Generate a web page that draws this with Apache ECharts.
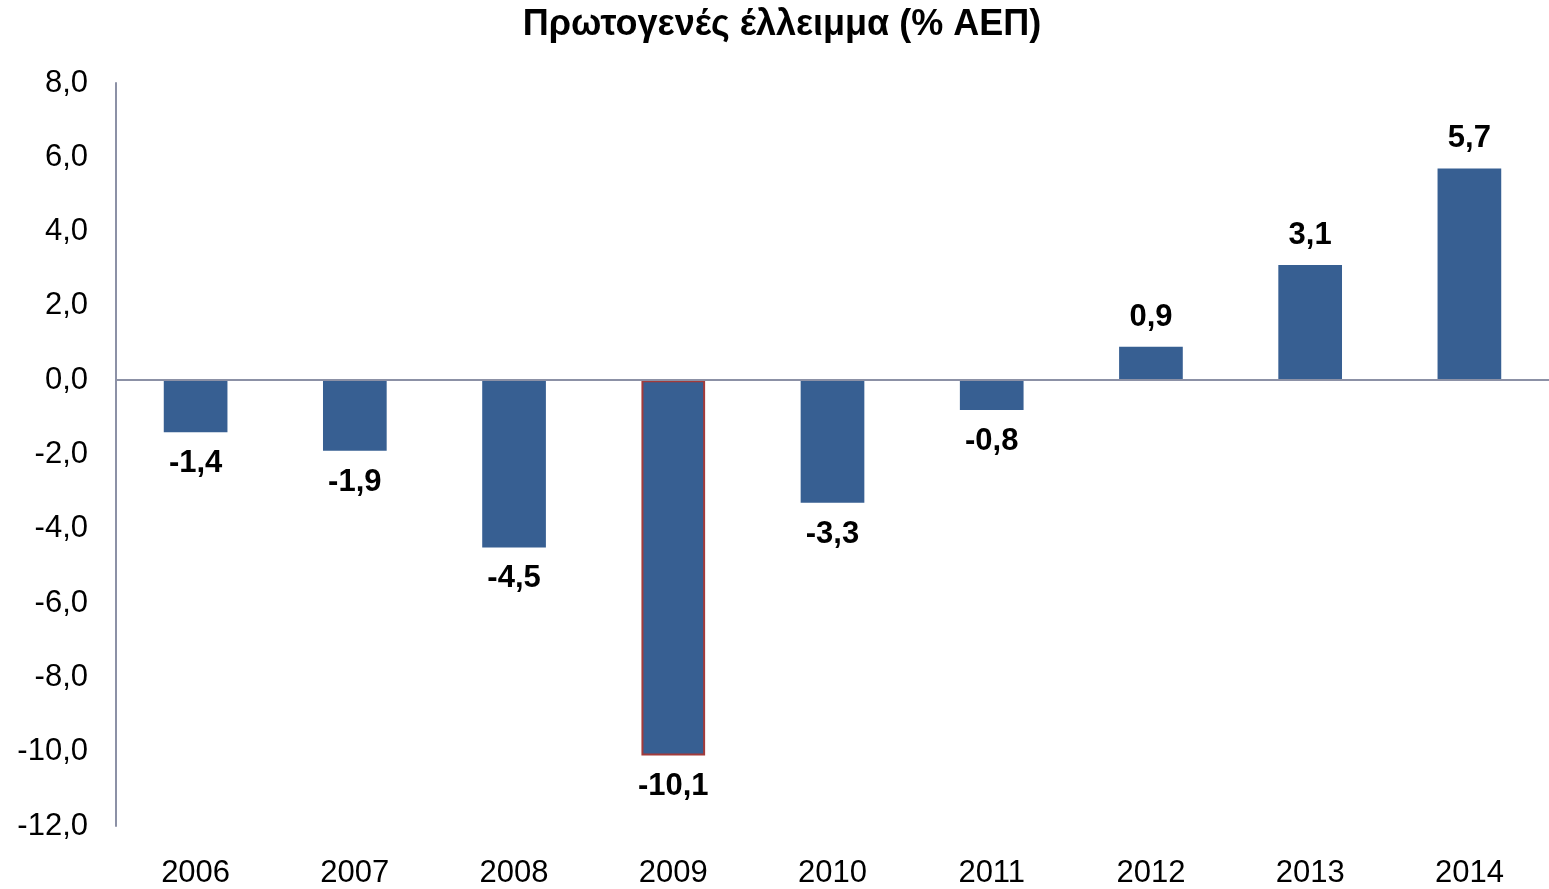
<!DOCTYPE html>
<html>
<head>
<meta charset="utf-8">
<script src="https://cdn.jsdelivr.net/npm/echarts@6/dist/echarts.min.js"></script>
<style>
html,body{margin:0;padding:0;background:#fff;}
#c{width:1549px;height:889px;}
</style>
</head>
<body>
<div id="c"></div>
<script>
const title = 'Πρωτογενές έλλειμμα (% ΑΕΠ)';
const years = ['2006','2007','2008','2009','2010','2011','2012','2013','2014'];
const values = [-1.4, -1.9, -4.5, -10.1, -3.3, -0.8, 0.9, 3.1, 5.7];
const highlightYear = '2009';

const fmt = v => v.toFixed(1).replace('.', ',');
const FONT = '"Liberation Sans", Arial, sans-serif';

const chart = echarts.init(document.getElementById('c'));
chart.setOption({
  animation: false,
  backgroundColor: '#fff',
  title: {
    text: title,
    left: 782,
    textAlign: 'center',
    top: 7,
    padding: 0,
    textStyle: {fontFamily: FONT, fontWeight: 'bold', fontSize: 36, color: '#000'}
  },
  grid: {left: 116, right: 0, top: 83, bottom: 61, containLabel: false},
  xAxis: {
    type: 'category',
    data: years,
    axisLine: {show: false, onZero: false},
    axisTick: {show: false},
    axisLabel: {margin: 32, fontFamily: FONT, fontSize: 31, color: '#000'}
  },
  yAxis: {
    type: 'value',
    min: -12, max: 8, interval: 2,
    axisLine: {show: true, lineStyle: {color: '#8c91a6', width: 2}},
    axisTick: {show: false},
    splitLine: {show: false},
    axisLabel: {margin: 28, fontFamily: FONT, fontSize: 31, color: '#000', formatter: v => fmt(v)}
  },
  series: [{
    type: 'bar',
    barWidth: '40%',
    data: values.map((v, i) => ({
      value: v,
      itemStyle: years[i] === highlightYear ? {borderColor: '#a23b3b', borderWidth: 2} : {},
      label: v < 0 ? {position: 'bottom', distance: 16} : {position: 'top', distance: 14}
    })),
    itemStyle: {color: '#375f92'},
    label: {
      show: true,
      fontFamily: FONT, fontWeight: 'bold', fontSize: 31, color: '#000',
      formatter: p => fmt(p.value)
    },
    markLine: {
      silent: true,
      symbol: ['none', 'none'],
      label: {show: false},
      lineStyle: {color: '#8c91a6', width: 2, type: 'solid'},
      data: [{yAxis: 0}]
    }
  }]
});
</script>
</body>
</html>
